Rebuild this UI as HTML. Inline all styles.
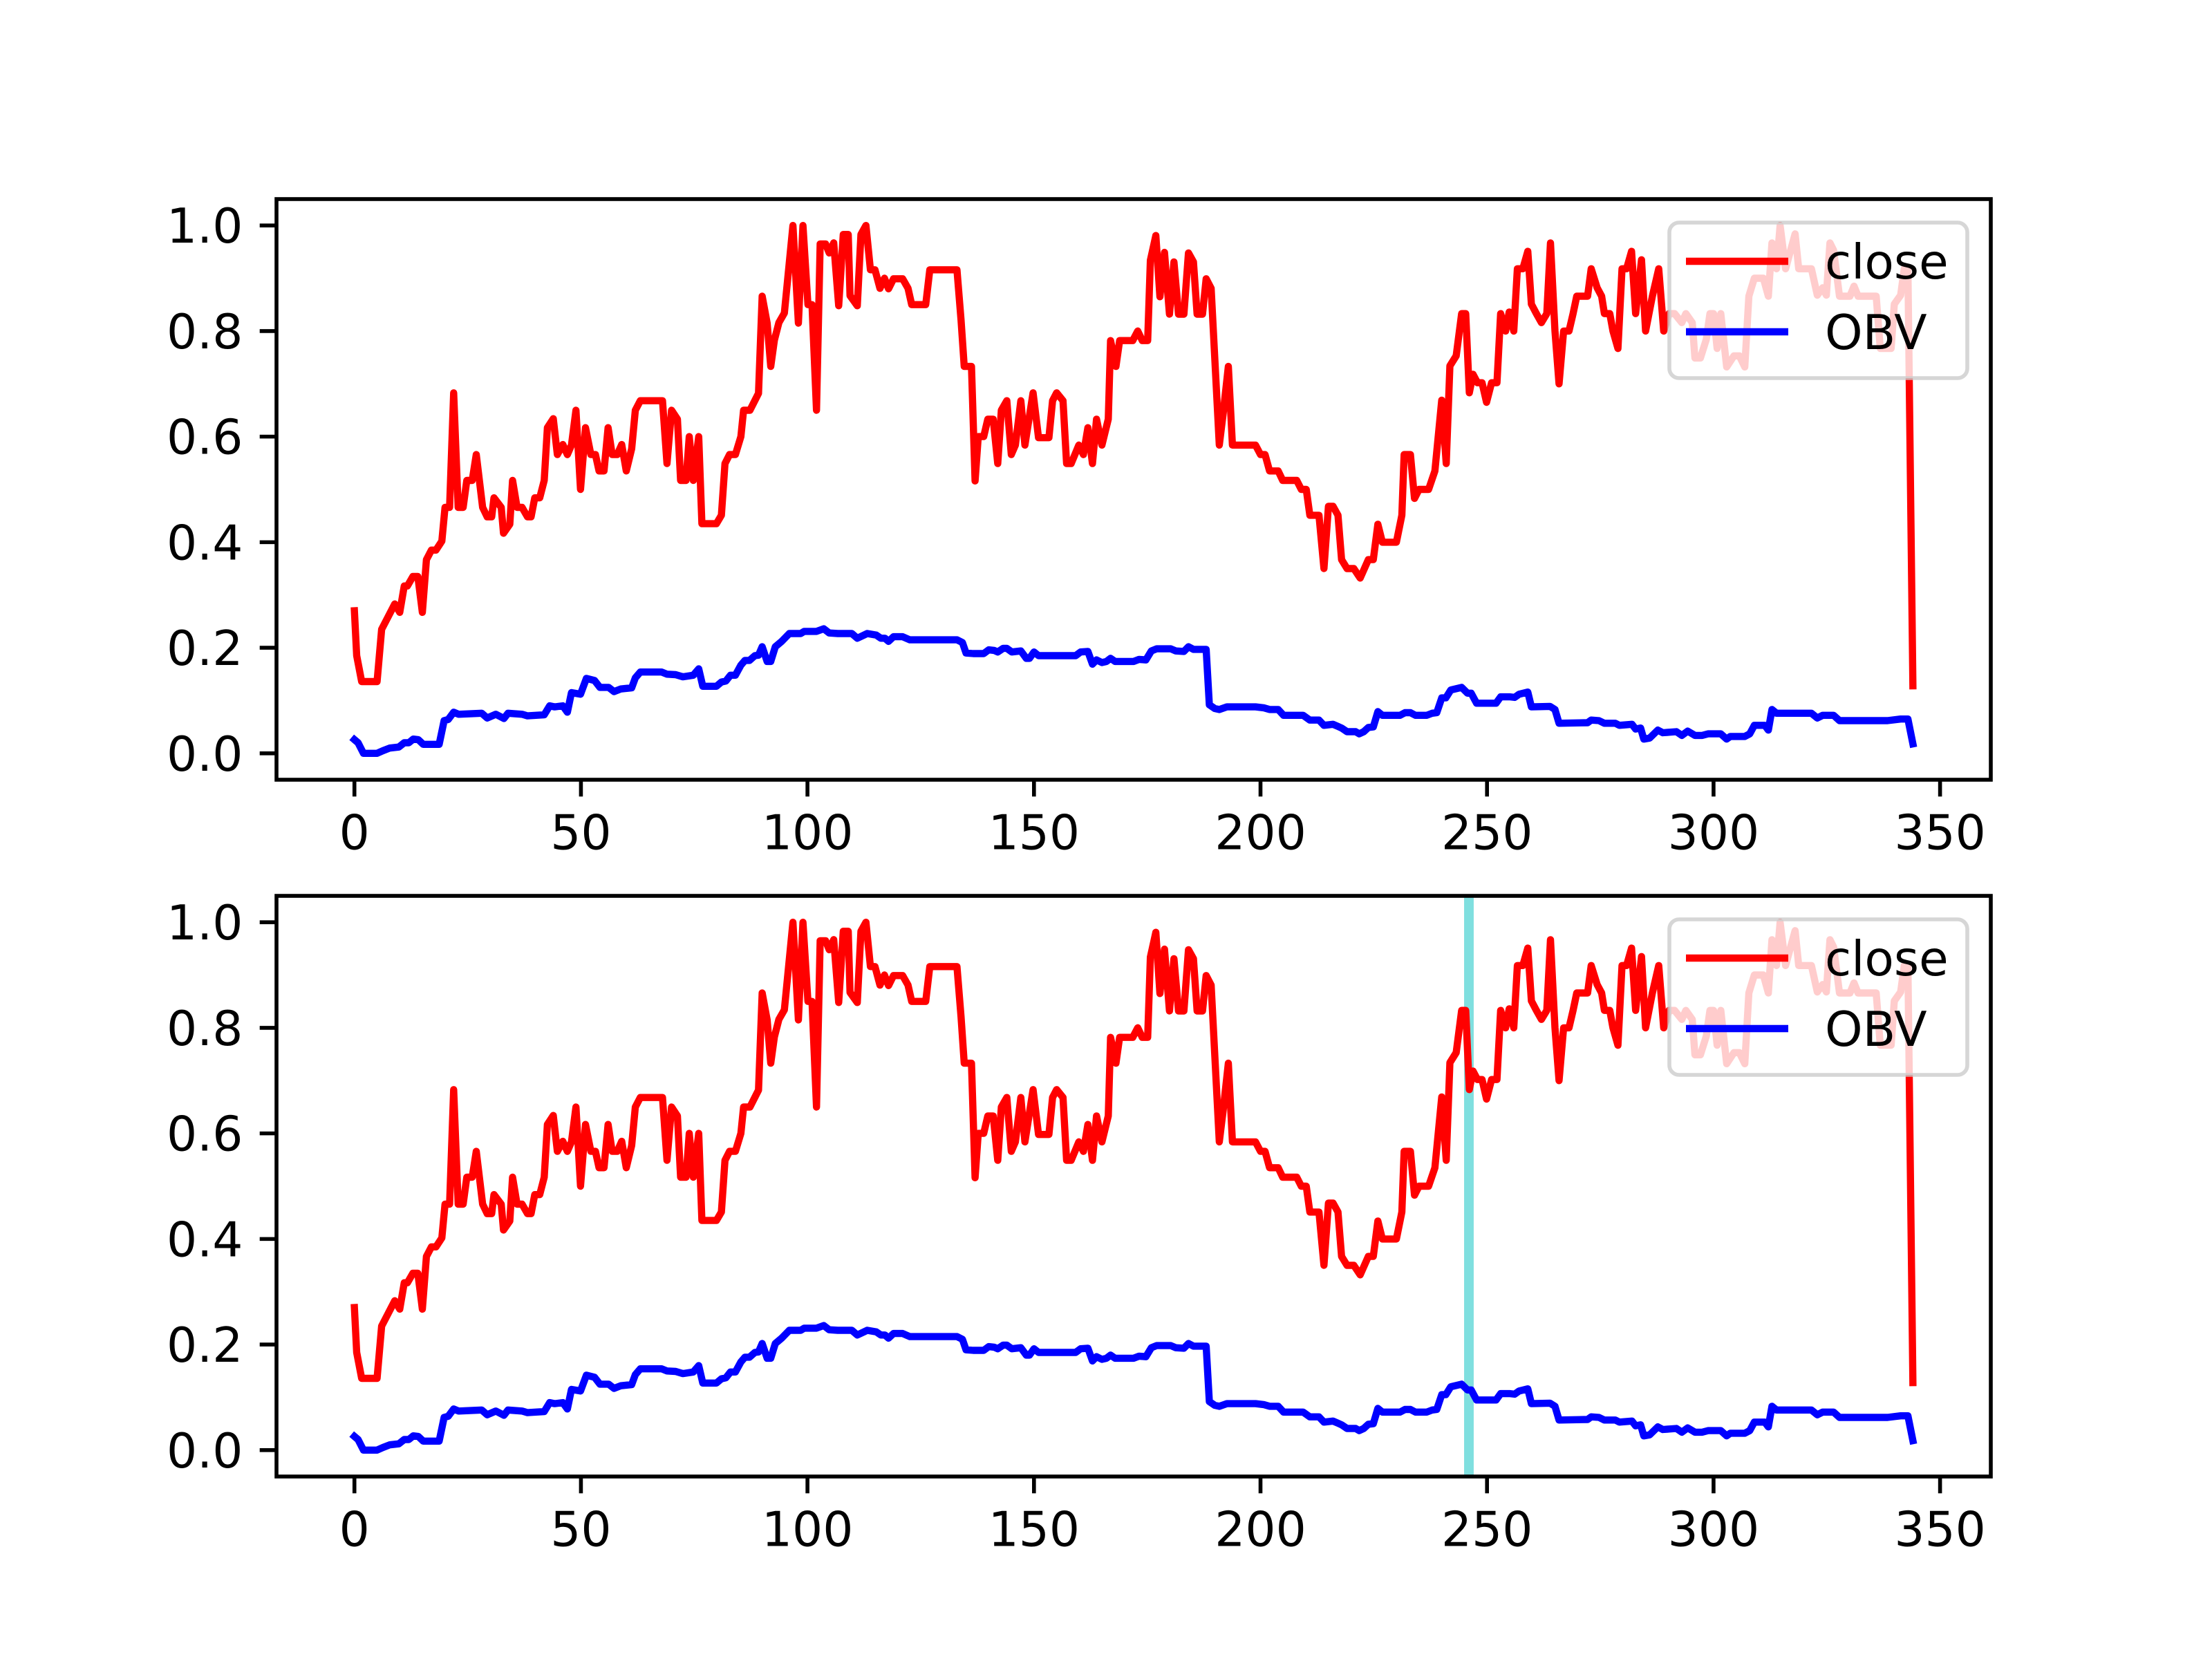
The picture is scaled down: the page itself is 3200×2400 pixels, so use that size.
<!DOCTYPE html>
<html><head><meta charset="utf-8"><style>html,body{margin:0;padding:0;background:#fff}svg{display:block}</style></head>
<body>
<svg id="fig" xmlns="http://www.w3.org/2000/svg" width="3200" height="2400" viewBox="0 0 3200 2400" font-family="'DejaVu Sans','Liberation Sans',sans-serif">
<rect width="3200" height="2400" fill="#fff"/>
</svg>
<script>
const closeIdx=[0,0.5,1.6,5,6,8.9,10,11,11.7,12.9,14,15,15.9,17,18,19.3,20,21,21.9,22.9,24,24.8,26,26.9,28.3,29.3,30.3,30.8,32.4,32.9,34.3,34.9,35.9,37,38.2,39,39.8,40.9,41.9,42.6,43.9,44.8,46,47,47.9,48.9,49.9,51,52.2,53.2,54,55.1,56,56.9,58,59,60,61.2,62,63.1,68,69,70,71.3,72,73.2,73.9,74.8,76,76.7,79.9,81,81.8,82.8,84.1,85.3,85.9,87.3,89.2,90,91.1,91.9,92.7,93.7,94.9,96.8,98,99,100.1,101,102,102.8,104,104.8,105.8,106.9,107.9,109,109.4,111,111.8,112.9,113.9,114.9,116,117,117.9,119,121,122.2,123,126.1,127,133,133.9,134.6,136.2,137,137.7,138.9,139.8,141,142,142.8,144,145,145.9,147.1,148,149.8,151,153.3,154.1,155,156.4,157.2,158.2,159.9,160.9,161.9,162.9,163.8,165,166.4,166.9,168.1,168.9,171.8,172.9,173.9,175.1,175.7,176.9,177.8,178.8,179.9,180.9,181.9,183.1,184.1,185.2,186,187.2,188,189.1,190.9,191.8,192.9,193.8,198.9,200,201,202,203.9,204.9,208,209,210.1,210.9,212.9,214,215,216,217.1,217.9,219.1,220.6,222,223.8,224.9,225.9,226.9,230,231.2,231.7,233.1,234,235,237.1,238.5,240,241,241.8,243.2,244.4,245.3,246.1,246.9,247.9,248.9,249.9,251,252.2,253,254.1,254.9,255.9,256.7,257.9,259,259.8,260.9,262,263.2,264,265,265.9,266.9,268.1,269,269.8,272.2,273,274.3,275.3,275.9,277.1,277.8,278.9,279.8,280.8,281.9,282.8,284.1,285,286.5,287.9,289,290.2,291.4,293,293.9,295.3,295.9,297.1,298.4,299.2,300,300.8,301.6,302.9,304.5,305.7,306.9,307.8,309,311,312.1,312.9,313.9,314.7,315.9,318,318.8,321.6,322.9,324.1,324.9,325.7,326.5,327.8,330.1,331,331.9,335.9,336.8,339.2,339.9,341.3,342.1,342.9,344];
const closeVals=[0.27,0.185,0.136,0.136,0.235,0.283,0.267,0.317,0.317,0.335,0.335,0.267,0.367,0.385,0.385,0.402,0.466,0.466,0.683,0.466,0.466,0.517,0.517,0.566,0.466,0.448,0.448,0.484,0.466,0.417,0.434,0.517,0.466,0.466,0.448,0.448,0.484,0.484,0.517,0.617,0.634,0.566,0.585,0.566,0.584,0.65,0.5,0.617,0.566,0.566,0.535,0.535,0.617,0.566,0.566,0.585,0.535,0.577,0.65,0.668,0.668,0.549,0.65,0.633,0.517,0.517,0.6,0.517,0.6,0.435,0.435,0.451,0.549,0.566,0.566,0.6,0.65,0.65,0.682,0.866,0.815,0.733,0.783,0.816,0.834,1.0,0.815,1.0,0.85,0.85,0.65,0.965,0.965,0.948,0.967,0.848,0.983,0.983,0.867,0.848,0.983,1.0,0.916,0.916,0.881,0.9,0.88,0.899,0.899,0.881,0.85,0.85,0.916,0.916,0.821,0.733,0.733,0.516,0.6,0.6,0.633,0.633,0.549,0.65,0.668,0.566,0.584,0.668,0.584,0.683,0.598,0.598,0.668,0.683,0.668,0.549,0.549,0.584,0.566,0.617,0.549,0.633,0.584,0.633,0.782,0.733,0.782,0.782,0.8,0.782,0.782,0.934,0.981,0.865,0.949,0.832,0.931,0.832,0.832,0.948,0.931,0.832,0.832,0.899,0.881,0.584,0.647,0.733,0.584,0.584,0.566,0.566,0.535,0.535,0.517,0.517,0.5,0.5,0.451,0.451,0.35,0.468,0.468,0.451,0.367,0.35,0.35,0.332,0.367,0.367,0.434,0.4,0.4,0.451,0.566,0.566,0.483,0.5,0.5,0.535,0.669,0.549,0.734,0.753,0.833,0.833,0.683,0.718,0.702,0.702,0.665,0.702,0.702,0.833,0.8,0.836,0.8,0.918,0.918,0.951,0.851,0.833,0.816,0.833,0.967,0.8,0.7,0.8,0.8,0.833,0.866,0.866,0.918,0.882,0.866,0.833,0.833,0.8,0.767,0.918,0.918,0.951,0.833,0.935,0.8,0.866,0.918,0.8,0.833,0.833,0.816,0.833,0.816,0.749,0.749,0.784,0.833,0.833,0.767,0.833,0.732,0.753,0.753,0.732,0.866,0.9,0.9,0.866,0.967,0.918,1.0,0.918,0.984,0.918,0.918,0.868,0.882,0.868,0.967,0.953,0.866,0.866,0.885,0.866,0.866,0.767,0.767,0.851,0.868,0.918,0.918,0.128];
const obvIdx=[0,0.8,2,5,6.3,7.8,9.8,11,12,13,14.1,15.2,18.7,19.8,20.7,21.9,23,28.1,29.3,31.2,33,33.9,37,38.2,41.9,43.1,44.2,46,47,47.9,49.9,51.2,53,54.2,56.1,57.3,58.8,61.2,62,63.1,67.8,69,70.9,72.5,74.8,76,76.9,79.9,81,82,83,84.1,85.3,86.2,87.2,88.4,89.2,90,91.1,91.9,92.9,94.3,96,98.5,99.3,102,103.6,104.8,106.7,109.8,111,113.2,115.2,116.2,117.1,117.9,119,121,122.6,133,134.2,135,136.6,138.9,140,141.2,142,143.2,144,145.1,147.1,148.3,149,150,151,159.2,160.3,161.9,162.9,163.8,165,166,166.9,167.9,172,173.2,174.7,175.9,177.1,180.2,181.3,183.1,184.1,185.2,188,188.7,189.9,190.9,192.6,198.9,200.8,202,203.9,205.1,209.4,210.9,212.9,214,216,217.1,217.9,219.1,221,221.8,222.8,223.8,224.9,225.9,226.9,230.8,231.9,233.1,234.2,236.7,237.9,238.9,240,240.9,242,244.4,245.7,246.5,247.7,252,253,255.1,256.1,257.1,259,259.8,263.9,265,265.9,272.2,273,274.7,275.9,278.3,279.2,282,282.8,283.9,284.6,285.9,287.7,288.8,291.8,293,294.3,295.9,297.5,298.8,301.6,302.9,303.7,306.9,308,309,311.3,312.1,312.9,313.9,321.6,322.9,324.1,326.5,327.8,338.4,341.3,342.9,344];
const obvVals=[0.026,0.02,0,0,0.005,0.01,0.012,0.02,0.02,0.027,0.026,0.017,0.017,0.062,0.064,0.078,0.074,0.076,0.067,0.074,0.066,0.076,0.074,0.071,0.073,0.09,0.088,0.09,0.078,0.115,0.112,0.142,0.138,0.125,0.125,0.117,0.122,0.124,0.143,0.154,0.154,0.15,0.149,0.145,0.148,0.16,0.127,0.127,0.135,0.137,0.148,0.148,0.167,0.176,0.176,0.185,0.186,0.202,0.174,0.174,0.202,0.212,0.227,0.227,0.231,0.231,0.236,0.228,0.227,0.227,0.218,0.227,0.224,0.218,0.218,0.212,0.221,0.221,0.215,0.215,0.21,0.19,0.189,0.189,0.196,0.195,0.192,0.199,0.199,0.192,0.194,0.18,0.18,0.192,0.185,0.185,0.192,0.193,0.169,0.177,0.172,0.174,0.18,0.174,0.174,0.178,0.177,0.194,0.198,0.198,0.194,0.193,0.202,0.197,0.197,0.092,0.085,0.083,0.088,0.088,0.086,0.083,0.083,0.072,0.072,0.063,0.063,0.053,0.055,0.051,0.048,0.041,0.041,0.037,0.041,0.049,0.05,0.079,0.072,0.072,0.077,0.077,0.072,0.072,0.076,0.077,0.105,0.105,0.12,0.125,0.114,0.114,0.095,0.095,0.107,0.107,0.106,0.112,0.116,0.088,0.089,0.083,0.057,0.058,0.063,0.062,0.057,0.057,0.053,0.055,0.046,0.048,0.027,0.029,0.044,0.039,0.041,0.034,0.042,0.034,0.034,0.037,0.037,0.027,0.032,0.032,0.037,0.053,0.053,0.044,0.083,0.076,0.076,0.067,0.072,0.072,0.062,0.062,0.065,0.065,0.018];
const xTicks=[0,50,100,150,200,250,300,350];
const xTickLabels=["0","50","100","150","200","250","300","350"];
const yTicks=[0,0.2,0.4,0.6,0.8,1.0];
const yTickLabels=["0.0","0.2","0.4","0.6","0.8","1.0"];
const markerIdx=[246];

const NS="http://www.w3.org/2000/svg";
const svg=document.getElementById('fig');
function mk(tag,attrs,parent){const e=document.createElementNS(NS,tag);for(const k in attrs)e.setAttribute(k,attrs[k]);(parent||svg).appendChild(e);return e;}
const L=400,R=2880,XMIN=-17.2,XMAX=361.2,YMIN=-0.05,YMAX=1.05;
function drawAxes(top,bottom,name,withMarker){
  const g=mk('g',{});
  
  
  const sx=v=>L+(v-XMIN)/(XMAX-XMIN)*(R-L);
  const sy=v=>bottom-(v-YMIN)/(YMAX-YMIN)*(bottom-top);
  const cp='clip-'+name;
  const cl=mk('clipPath',{id:cp},g);mk('rect',{x:L,y:top,width:R-L,height:bottom-top},cl);
  const pg=mk('g',{'clip-path':'url(#'+cp+')'},g);
  if(withMarker){markerIdx.forEach(m=>{const ln=mk('line',{x1:sx(m),x2:sx(m),y1:top,y2:bottom,stroke:'#00bfbf','stroke-opacity':0.5,'stroke-width':13.9},pg);
    
    });}
  const pc=mk('polyline',{points:closeIdx.map((x,i)=>sx(x).toFixed(1)+','+sy(closeVals[i]).toFixed(1)).join(' '),fill:'none',stroke:'#ff0000','stroke-width':10.4,'stroke-linejoin':'round','stroke-linecap':'square'},pg);
  
  
  const po=mk('polyline',{points:obvIdx.map((x,i)=>sx(x).toFixed(1)+','+sy(obvVals[i]).toFixed(1)).join(' '),fill:'none',stroke:'#0000ff','stroke-width':10.4,'stroke-linejoin':'round','stroke-linecap':'square'},pg);
  
  
  xTicks.forEach((t,i)=>{mk('line',{x1:sx(t),x2:sx(t),y1:bottom,y2:bottom+24.3,stroke:'#000','stroke-width':5.6},g);
    const tx=mk('text',{x:sx(t),y:bottom+24.3+24.3+52,'font-size':69.4,'text-anchor':'middle',fill:'#000'},g);tx.textContent=xTickLabels[i];
    
    });
  yTicks.forEach((t,i)=>{mk('line',{x1:L,x2:L-24.3,y1:sy(t),y2:sy(t),stroke:'#000','stroke-width':5.6},g);
    const tx=mk('text',{x:L-24.3-24.3,y:sy(t)+25,'font-size':69.4,'text-anchor':'end',fill:'#000'},g);tx.textContent=yTickLabels[i];
    
    });
  mk('rect',{x:L,y:top,width:R-L,height:bottom-top,fill:'none',stroke:'#000','stroke-width':5.6},g);
  const lg=mk('g',{},g);
  
  
  mk('rect',{x:2415,y:top+34,width:431,height:225,rx:14,fill:'#fff','fill-opacity':0.8,stroke:'#cccccc','stroke-opacity':0.8,'stroke-width':5.6},lg);
  [['close','#ff0000',90],['OBV','#0000ff',192]].forEach(([lab,c,dy])=>{
    mk('line',{x1:2439,x2:2587,y1:top+dy,y2:top+dy,stroke:c,'stroke-width':10.4},lg);
    const t=mk('text',{x:2640,y:top+dy+25,'font-size':69.4,fill:'#000'},lg);t.textContent=lab;
    
    });
}
drawAxes(288,1128,'top-chart',false);
drawAxes(1296,2136,'bottom-chart',true);
</script>
</body></html>
